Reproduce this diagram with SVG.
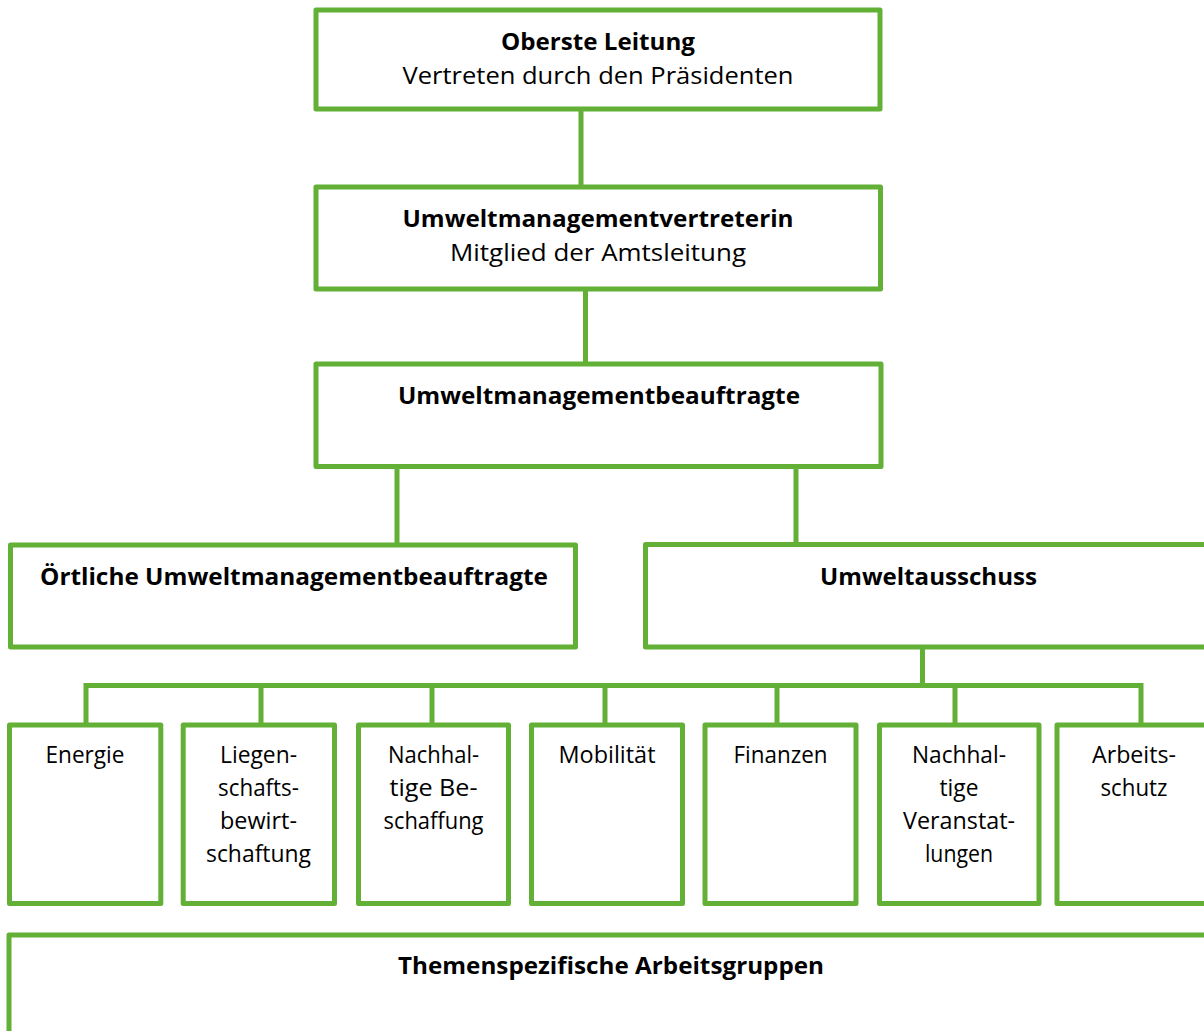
<svg xmlns="http://www.w3.org/2000/svg" width="1204" height="1031" viewBox="0 0 1204 1031">
<style>
.box{fill:#fff;stroke:#62b036;stroke-width:5;stroke-linejoin:round}
.conn{fill:none;stroke:#62b036;stroke-width:5;stroke-linejoin:miter}
text{font-family:"Open Sans","Liberation Sans",sans-serif;font-size:23px;fill:#000;text-anchor:middle}
.b{font-weight:700}
</style>
<rect width="1204" height="1031" fill="#fff"/>
<g id="connectors">
<path class="conn" d="M581,109 V187"/>
<path class="conn" d="M585.5,289 V364"/>
<path class="conn" d="M397,466.5 V545"/>
<path class="conn" d="M796,466.5 V544.5"/>
<path class="conn" d="M922.5,647 V685.5"/>
<path class="conn" d="M86,725 V685.5 H1141 V725"/>
<path class="conn" d="M261,685.5 V725"/>
<path class="conn" d="M432,685.5 V725"/>
<path class="conn" d="M605,685.5 V725"/>
<path class="conn" d="M777,685.5 V725"/>
<path class="conn" d="M955,685.5 V725"/>
</g>
<g id="oberste-leitung">
<rect class="box" x="316" y="10" width="564" height="99"/>
<text class="b" x="598" y="49.5" textLength="194" lengthAdjust="spacingAndGlyphs">Oberste Leitung</text>
<text x="598" y="84" textLength="391" lengthAdjust="spacingAndGlyphs">Vertreten durch den Präsidenten</text>
</g>
<g id="umweltmanagementvertreterin">
<rect class="box" x="316" y="187" width="564.5" height="102"/>
<text class="b" x="598" y="226.5" textLength="391" lengthAdjust="spacingAndGlyphs">Umweltmanagementvertreterin</text>
<text x="598" y="261" textLength="296" lengthAdjust="spacingAndGlyphs">Mitglied der Amtsleitung</text>
</g>
<g id="umweltmanagementbeauftragte">
<rect class="box" x="316" y="364" width="565" height="102.5"/>
<text class="b" x="599" y="403.5" textLength="402" lengthAdjust="spacingAndGlyphs">Umweltmanagementbeauftragte</text>
</g>
<g id="oertliche-umweltmanagementbeauftragte">
<rect class="box" x="10.5" y="545" width="565" height="102"/>
<text class="b" x="294" y="584.5" textLength="508" lengthAdjust="spacingAndGlyphs">Örtliche Umweltmanagementbeauftragte</text>
</g>
<g id="umweltausschuss">
<rect class="box" x="645.5" y="544.5" width="567" height="102.5"/>
<text class="b" x="928.5" y="584.5" textLength="217" lengthAdjust="spacingAndGlyphs">Umweltausschuss</text>
</g>
<g id="energie">
<rect class="box" x="9.5" y="725" width="151.3" height="178.5"/>
<text x="85" y="763" textLength="79" lengthAdjust="spacingAndGlyphs">Energie</text>
</g>
<g id="liegenschaftsbewirtschaftung">
<rect class="box" x="183.2" y="725" width="151.3" height="178.5"/>
<text x="258.5" y="763" textLength="77" lengthAdjust="spacingAndGlyphs">Liegen-</text>
<text x="258.5" y="796" textLength="81" lengthAdjust="spacingAndGlyphs">schafts-</text>
<text x="258.5" y="829" textLength="77" lengthAdjust="spacingAndGlyphs">bewirt-</text>
<text x="258.5" y="862" textLength="105" lengthAdjust="spacingAndGlyphs">schaftung</text>
</g>
<g id="nachhaltige-beschaffung">
<rect class="box" x="358.5" y="725" width="150" height="178.5"/>
<text x="433.5" y="763" textLength="91" lengthAdjust="spacingAndGlyphs">Nachhal-</text>
<text x="433.5" y="796" textLength="88" lengthAdjust="spacingAndGlyphs">tige Be-</text>
<text x="433.5" y="829" textLength="100" lengthAdjust="spacingAndGlyphs">schaffung</text>
</g>
<g id="mobilitaet">
<rect class="box" x="531.5" y="725" width="151" height="178.5"/>
<text x="607" y="763" textLength="97" lengthAdjust="spacingAndGlyphs">Mobilität</text>
</g>
<g id="finanzen">
<rect class="box" x="705" y="725" width="151" height="178.5"/>
<text x="780.5" y="763" textLength="94" lengthAdjust="spacingAndGlyphs">Finanzen</text>
</g>
<g id="nachhaltige-veranstaltungen">
<rect class="box" x="879.5" y="725" width="159.5" height="178.5"/>
<text x="959" y="763" textLength="94" lengthAdjust="spacingAndGlyphs">Nachhal-</text>
<text x="959" y="796" textLength="39" lengthAdjust="spacingAndGlyphs">tige</text>
<text x="959" y="829" textLength="112" lengthAdjust="spacingAndGlyphs">Veranstat-</text>
<text x="959" y="862" textLength="68" lengthAdjust="spacingAndGlyphs">lungen</text>
</g>
<g id="arbeitsschutz">
<rect class="box" x="1057" y="725" width="155" height="178.5"/>
<text x="1134" y="763" textLength="84" lengthAdjust="spacingAndGlyphs">Arbeits-</text>
<text x="1134" y="796" textLength="67" lengthAdjust="spacingAndGlyphs">schutz</text>
</g>
<g id="themenspezifische-arbeitsgruppen">
<rect class="box" x="9" y="935" width="1203" height="120"/>
<text class="b" x="611" y="974" textLength="426" lengthAdjust="spacingAndGlyphs">Themenspezifische Arbeitsgruppen</text>
</g>
</svg>
